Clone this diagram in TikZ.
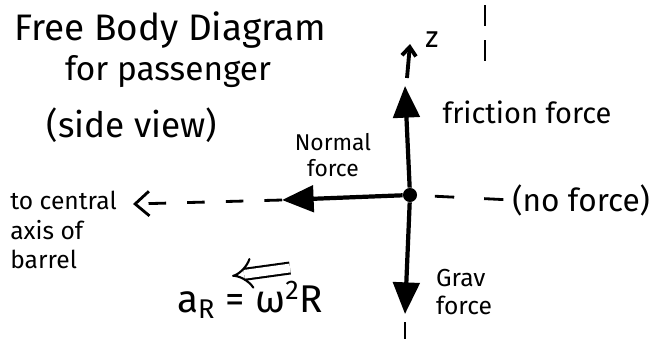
\documentclass[tikz,border=0pt]{standalone}
\usepackage{fontspec}
\setmainfont{Fira Sans}
\usetikzlibrary{arrows.meta}
\tikzset{
  lbl/.style={inner sep=0pt, text=black},
  force/.style={line width=2.4pt, -{Triangle[length=18pt,width=15pt]}},
  guide/.style={line width=1.6pt, dash pattern=on 10pt off 12pt},
}
\newcommand{\fs}[1]{\fontsize{#1}{#1}\selectfont}
\begin{document}
\begin{tikzpicture}[x=0.02cm,y=-0.02cm]
\useasboundingbox (0,0) rectangle (662,339);
% title
\node[lbl, font=\fs{21pt}] (t1) at (170,30) {Free Body Diagram};
\node[lbl, font=\fs{19pt}] (t2) at (168,72) {for passenger};
\node[lbl, font=\fs{20pt}] (t3) at (132,125) {(side view)};
% centre point
\node[circle, fill=black, inner sep=0pt, minimum size=8pt] (c) at (410,195) {};
\coordinate (up) at (405,86);
\coordinate (down) at (405,314);
\coordinate (left) at (282,200);
\draw[force] (c) -- (up);
\draw[force] (c) -- (down);
\draw[force] (c) -- (left);
% labels
\node[lbl, font=\fs{16.5pt}] (fric) at (527,112) {friction force};
\node[lbl, font=\fs{13pt}, align=center] (norm) at (333,155) {Normal\\[2pt]force};
\node[lbl, font=\fs{14pt}, align=left] (grav) at (464,292) {Grav\\[2pt]force};
\node[lbl, font=\fs{18pt}, anchor=west] (nof) at (512,200) {(no force)};
\node[lbl, font=\fs{14pt}, align=left, anchor=west] (axis) at (10,230) {to central\\[3pt]axis of\\[3pt]barrel};
% dashed guides
\draw[guide, -{Straight Barb[length=8pt,width=14pt,line width=1.6pt]}] (left) -- (133,204);
\draw[guide, dash pattern=on 0pt off 10pt on 11pt off 17pt on 11pt off 30pt] (c) -- (nof.west);
% z axis marker
\coordinate (z0) at (407,78);
\coordinate (z1) at (410,44);
\draw[line width=2.2pt, -{Straight Barb[length=5pt,width=8pt]}] (z0) -- (z1);
\node[lbl, font=\fs{17pt}] (z) at (432,40) {z};
% vertical dashed line
\coordinate (v0) at (485,5);
\coordinate (v1) at (485,75);
\draw[guide, dash pattern=on 12pt off 8pt] (v0) -- (v1);
\coordinate (b0) at (405,322);
\coordinate (b1) at (405,339);
\draw[line width=1.6pt] (b0) -- (b1);
% centripetal acceleration
\coordinate (a0) at (290,268);
\coordinate (a1) at (232,276);
\draw[line width=1.2pt, double, double distance=5pt, -{Implies[scale=1.5]}] (a0) -- (a1);
\node[lbl, font=\fs{22pt}] (acc) at (250,300) {a\textsubscript{R} = ω\textsuperscript{2}R};
\end{tikzpicture}
\end{document}
